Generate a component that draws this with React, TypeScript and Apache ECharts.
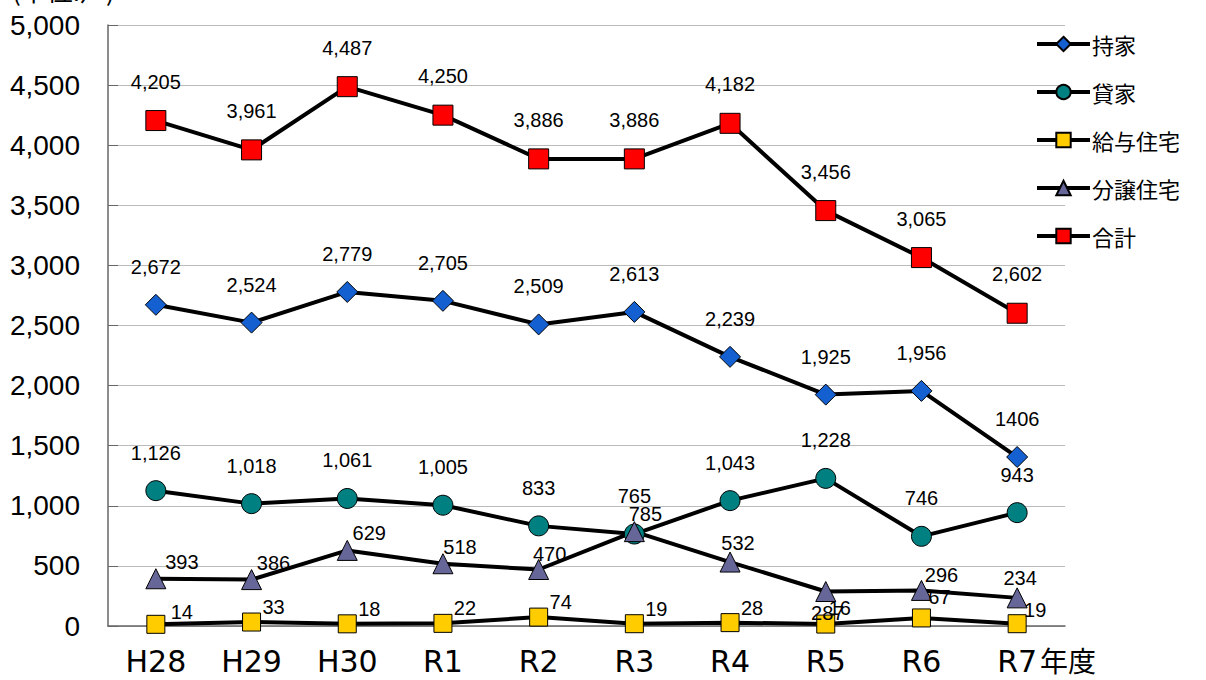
import React, { useEffect, useRef } from "react";
import * as echarts from "echarts";

const categories = ["H28", "H29", "H30", "R1", "R2", "R3", "R4", "R5", "R6", "R7"];
const seriesNames = ["持家", "貸家", "給与住宅", "分譲住宅", "合計"];
const mochiie = [2672, 2524, 2779, 2705, 2509, 2613, 2239, 1925, 1956, 1406];
const kashiya = [1126, 1018, 1061, 1005, 833, 765, 1043, 1228, 746, 943];
const kyuyo = [14, 33, 18, 22, 74, 19, 28, 16, 67, 19];
const bunjo = [393, 386, 629, 518, 470, 785, 532, 287, 296, 234];
const total = [4205, 3961, 4487, 4250, 3886, 3886, 4182, 3456, 3065, 2602];
const yMin = 0;
const yMax = 5000;
const yStep = 500;

const fmt = (v: number) => v.toLocaleString("en-US");
const LABEL_FONT = "'Liberation Sans', Arial, sans-serif";

function mk(
  name: string,
  values: number[],
  symbol: string,
  size: number,
  color: string,
  offset: number[],
  overrides: Record<number, number[]>,
  textOverrides: Record<number, string>
) {
  return {
    name,
    type: "line",
    data: values.map((v, i) => {
      const item: any = { value: v };
      const lab: any = {};
      if (overrides[i]) lab.offset = overrides[i];
      if (textOverrides[i] !== undefined) lab.formatter = textOverrides[i];
      if (Object.keys(lab).length) item.label = lab;
      return item;
    }),
    symbol,
    symbolSize: size,
    itemStyle: { color, borderColor: "#000", borderWidth: 1 },
    lineStyle: { color: "#000", width: 4 },
    label: {
      show: true,
      position: "inside",
      offset,
      formatter: (p: any) => fmt(p.value),
      color: "#000",
      fontFamily: LABEL_FONT,
      fontSize: 20,
    },
    emphasis: { disabled: true },
    silent: true,
  };
}

export default function App() {
  const ref = useRef<HTMLDivElement>(null);
  useEffect(() => {
    if (!ref.current) return;
    const chart = echarts.init(ref.current, undefined, { renderer: "svg" });
    chart.setOption({
      animation: false,
      backgroundColor: "#fff",
      grid: { left: 108, right: 141, top: 25, bottom: 54, containLabel: false },
      legend: {
        orient: "vertical",
        left: 1035,
        top: 33,
        padding: 0,
        itemWidth: 53,
        itemHeight: 18,
        itemGap: 26,
        data: seriesNames,
        lineStyle: { width: 4, color: "#000" },
        textStyle: {
          fontFamily: "'Noto Sans CJK JP', sans-serif",
          fontSize: 22,
          color: "#000",
          padding: [0, 0, 0, -3],
        },
      },
      xAxis: {
        type: "category",
        data: categories,
        boundaryGap: true,
        axisLine: { lineStyle: { color: "#666", width: 1.5 } },
        axisTick: { inside: true, length: 7, lineStyle: { color: "#666" } },
        axisLabel: {
          margin: 20,
          fontFamily: "'DejaVu Sans', sans-serif",
          fontSize: 30,
          color: "#000",
        },
      },
      yAxis: {
        type: "value",
        min: yMin,
        max: yMax,
        interval: yStep,
        axisLine: { show: true, lineStyle: { color: "#666", width: 1.5 } },
        axisTick: { show: true, inside: true, length: 10, lineStyle: { color: "#666" } },
        splitLine: { lineStyle: { color: "#bbb", width: 1 } },
        axisLabel: {
          margin: 28,
          formatter: (v: number) => fmt(v),
          fontFamily: "'Liberation Sans', Arial, sans-serif",
          fontSize: 28,
          color: "#000",
        },
      },
      graphic: [
        {
          type: "text",
          left: 1040,
          top: 646,
          style: {
            text: "年度",
            font: "28px 'Noto Sans CJK JP', sans-serif",
            fill: "#000",
          },
        },
        {
          type: "text",
          left: 12,
          top: -24,
          style: {
            text: "(単位:戸)",
            font: "26px 'Noto Sans CJK JP', sans-serif",
            fill: "#000",
          },
        },
      ],
      series: [
        mk(seriesNames[0], mochiie, "diamond", 21, "#1560D0", [0, -38], {}, { 9: "1406" }),
        mk(seriesNames[1], kashiya, "circle", 20, "#008080", [0, -38], {}, {}),
        mk(seriesNames[2], kyuyo, "rect", 18, "#FFCC00", [22, -15], {
          0: [26, -12],
          7: [14, -16],
          8: [18, -21],
          9: [18, -14],
        }, {}),
        mk(seriesNames[3], bunjo, "triangle", 20, "#666699", [22, -17], {
          0: [26, -17],
          3: [17, -17],
          4: [11, -16],
          5: [11, -18],
          6: [8, -19],
          7: [2, 21],
          8: [20, -15],
          9: [3, -20],
        }, {}),
        mk(seriesNames[4], total, "rect", 20, "#FF0000", [0, -39], {}, {}),
      ],
    });
    return () => chart.dispose();
  }, []);
  return (
    <div
      ref={ref}
      style={{ position: "fixed", left: 0, top: 0, width: 1206, height: 680 }}
    />
  );
}
